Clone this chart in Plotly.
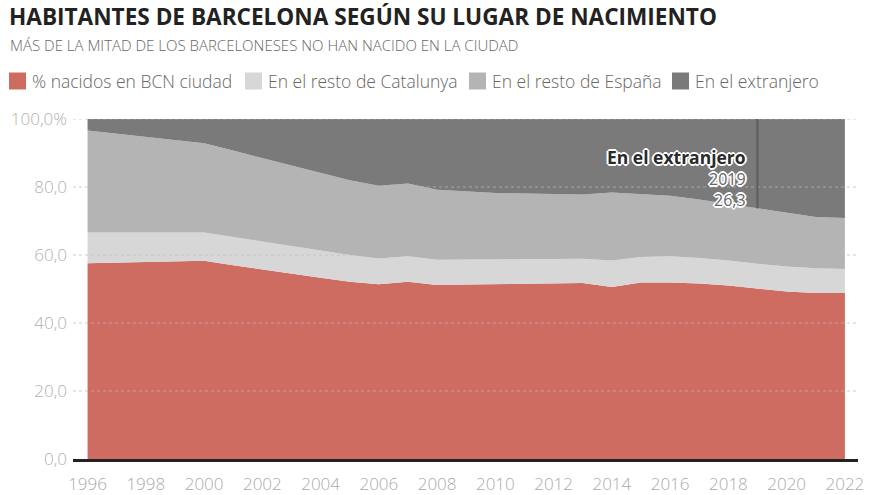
import plotly.graph_objects as go

years = [1996, 2000, 2001, 2002, 2003, 2004, 2005, 2006, 2007, 2008, 2009, 2010, 2011,
         2012, 2013, 2014, 2015, 2016, 2017, 2018, 2019, 2020, 2021, 2022]
bcn = [57.6, 58.3, 57.0, 55.7, 54.5, 53.3, 52.1, 51.4, 52.1, 51.2, 51.3, 51.4, 51.6,
       51.6, 51.8, 50.6, 51.9, 51.9, 51.6, 51.0, 50.1, 49.3, 48.8, 48.8]
catalunya = [9.0, 8.3, 8.3, 8.3, 8.1, 8.0, 7.9, 7.6, 7.5, 7.4, 7.3, 7.3, 7.2,
             7.2, 7.1, 7.8, 7.5, 7.7, 7.5, 7.4, 7.3, 7.3, 7.3, 7.1]
espana = [30.0, 26.3, 25.4, 24.5, 23.6, 22.7, 22.0, 21.4, 21.4, 20.6, 20.0, 19.5, 19.3,
          19.2, 18.9, 20.0, 18.6, 17.8, 17.2, 16.6, 16.3, 15.7, 15.1, 15.0]
extranjero = [3.4, 7.1, 9.3, 11.5, 13.8, 16.0, 18.0, 19.6, 19.0, 20.8, 21.4, 21.8, 21.9,
              22.0, 22.2, 21.6, 22.0, 22.6, 23.7, 25.0, 26.3, 27.7, 28.8, 29.1]

series_names = ["% nacidos en BCN ciudad", "En el resto de Catalunya",
                "En el resto de España", "En el extranjero"]
series_colors = ["#cf6c62", "#d7d7d7", "#b4b4b4", "#7a7a7a"]

y_ticks = [0, 20, 40, 60, 80, 100]
y_ticktext = ["0,0", "20,0", "40,0", "60,0", "80,0", "100,0%"]
x_ticks = list(range(1996, 2023, 2))

title_text = "HABITANTES DE BARCELONA SEGÚN SU LUGAR DE NACIMIENTO"
subtitle_text = "MÁS DE LA MITAD DE LOS BARCELONESES NO HAN NACIDO EN LA CIUDAD"
hl_year = 2019

W, H = 880, 495
ML, MR, MT, MB = 73, 22, 119, 36
PW, PH = W - ML - MR, H - MT - MB


def px(x):
    return (x - ML) / PW


def py(y):
    return (H - MB - y) / PH


fig = go.Figure()
for name, vals, col in zip(series_names, [bcn, catalunya, espana, extranjero], series_colors):
    fig.add_trace(go.Scatter(
        x=years, y=vals, name=name, mode="lines", stackgroup="one",
        line=dict(width=0, color=col), fillcolor=col, hoverinfo="skip",
        showlegend=False))

# gridlines above areas
for v in y_ticks[1:]:
    fig.add_shape(type="line", xref="paper", x0=0, x1=1, yref="y", y0=v, y1=v,
                  line=dict(color="rgba(185,185,185,0.7)", width=1, dash="dot"),
                  layer="above")

# highlight line at 2019
i = years.index(hl_year)
top_other = bcn[i] + catalunya[i] + espana[i]
fig.add_shape(type="line", x0=hl_year, x1=hl_year, y0=top_other, y1=100,
              line=dict(color="#5e5e5e", width=2), layer="above")

shadow = ("1px 1px 0 #fff, -1px -1px 0 #fff, 1px -1px 0 #fff, -1px 1px 0 #fff, "
          "0 2px 0 #fff, 0 -2px 0 #fff, 2px 0 0 #fff, -2px 0 0 #fff")
val_txt = f"{extranjero[i]:.1f}".replace(".", ",")
fig.add_annotation(
    x=hl_year, y=82.6, xref="x", yref="y", xanchor="right", yanchor="middle",
    xshift=-10, showarrow=False, align="right",
    text=(f"<span style='font-size:17.5px;color:#2a2a2a'><b>{series_names[3]}</b></span>"
          f"<br>{hl_year}<br>{val_txt}"),
    font=dict(family="Open Sans", size=16, color="#666", shadow=shadow))

# title / subtitle
fig.add_annotation(
    x=px(8), y=py(0), xref="paper", yref="paper", xanchor="left", yanchor="top",
    borderpad=0, showarrow=False, text=f"<b>{title_text}</b>",
    font=dict(family="Open Sans", size=22.6, color="#222"))
fig.add_annotation(
    x=px(8), y=py(45), xref="paper", yref="paper", xanchor="left", yanchor="middle",
    showarrow=False, text=subtitle_text,
    font=dict(family="Open Sans", size=15, color="#666", weight=300))

# legend (custom, matching the source layout)
legend_x = [9, 245, 469, 672]
for lx, name, col in zip(legend_x, series_names, series_colors):
    fig.add_shape(type="rect", xref="paper", yref="paper",
                  x0=px(lx), x1=px(lx + 17), y0=py(89.5), y1=py(72.5),
                  fillcolor=col, line=dict(width=0), layer="above")
    fig.add_annotation(
        x=px(lx + 21), y=py(81), xref="paper", yref="paper", xanchor="left",
        yanchor="middle", showarrow=False, text=name,
        font=dict(family="Open Sans", size=17.5, color="#666", weight=300))

fig.update_layout(
    width=W, height=H,
    margin=dict(l=ML, r=MR, t=MT, b=MB, autoexpand=False),
    paper_bgcolor="white", plot_bgcolor="white",
    showlegend=False,
    xaxis=dict(range=[1995.5, 2022.45], tickvals=x_ticks, showgrid=False,
               showline=True, linecolor="#222", linewidth=3, ticks="",
               ticklabelstandoff=8,
               tickfont=dict(family="Open Sans", size=17, color="#aaa", weight=300),
               zeroline=False, fixedrange=True, layer="above traces"),
    yaxis=dict(range=[0, 100], tickvals=y_ticks, ticktext=y_ticktext, showgrid=False,
               zeroline=False, ticks="", ticklabelstandoff=5,
               tickfont=dict(family="Open Sans", size=17, color="#b0b0b0", weight=300),
               fixedrange=True),
)

fig.write_html("out.html", config={"displayModeBar": False},
               post_script="document.body.style.margin='0';document.body.style.overflow='hidden';")
